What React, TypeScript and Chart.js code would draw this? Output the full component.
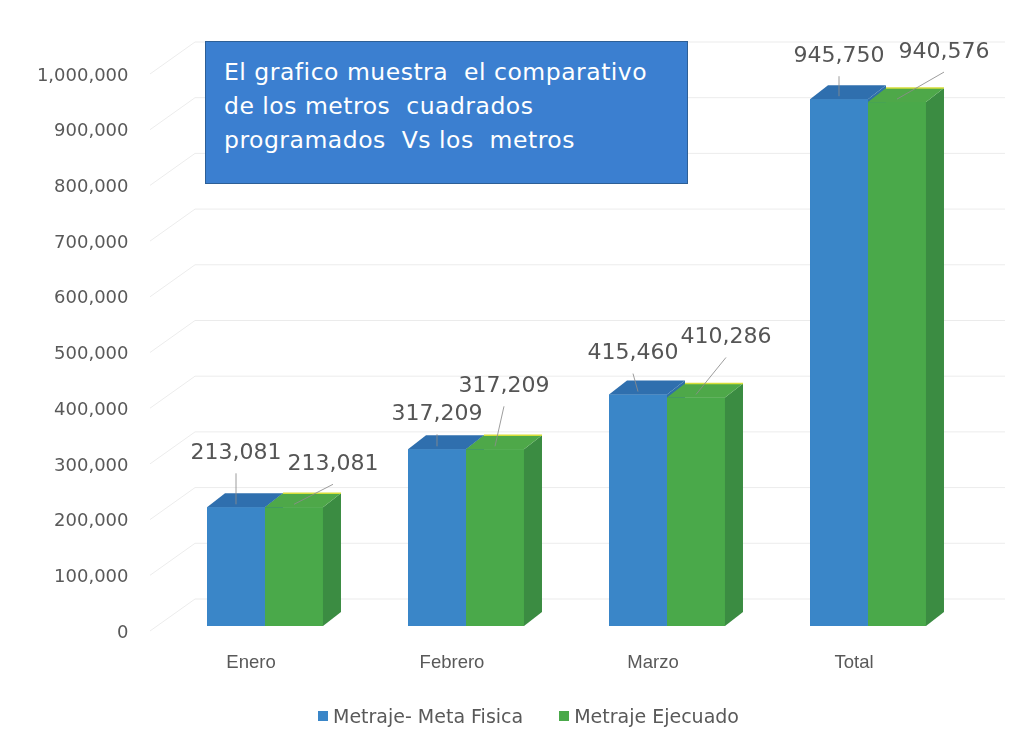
import React, { useEffect, useRef } from "react";
import { Chart, registerables } from "chart.js";

Chart.register(...registerables);

// ---- data ----
const categories = ["Enero", "Febrero", "Marzo", "Total"];
const metaFisica = [213081, 317209, 415460, 945750];
const ejecutado = [213081, 317209, 410286, 940576];
const seriesNames = ["Metraje- Meta Fisica", "Metraje Ejecuado"];
const yTicks = [0, 100000, 200000, 300000, 400000, 500000, 600000, 700000, 800000, 900000, 1000000];
const titleLines = [
  "El grafico muestra  el comparativo",
  "de los metros  cuadrados",
  "programados  Vs los  metros",
];

// ---- layout / style (not data) ----
const labelDX = [
  [0, 0, -5, 0],
  [39, 9, 30, 47],
];
const labelDY = [
  [-54, -35, -41, -43],
  [-43, -63, -60, -50],
];
const DEPTH_X = 18;
const DEPTH_Y = 14;
const WALL_X = 35;
const WALL_Y = 27;

const faces = [
  { front: "#3a86c8", side: "#2f6fa8", top: "#2f6fae", edge: null },
  { front: "#4aa94a", side: "#3b8c42", top: "#4ea849", edge: "#d6de3a" },
];

const fmt = (v: number) => v.toLocaleString("en-US");

const threeD = {
  id: "threeD",
  beforeDatasetsDraw(chart: any) {
    const ctx = chart.ctx;
    const ys = chart.scales.y;
    ctx.save();
    ctx.strokeStyle = "rgba(0,0,0,0.08)";
    ctx.lineWidth = 1;
    yTicks.forEach((v) => {
      const by = ys.getPixelForValue(v) - WALL_Y;
      ctx.beginPath();
      ctx.moveTo(150, by + 32);
      ctx.lineTo(150 + WALL_X + 10, by);
      ctx.lineTo(1005, by);
      ctx.stroke();
    });
    ctx.restore();
  },
  afterDatasetsDraw(chart: any) {
    const ctx = chart.ctx;
    ctx.save();
    chart.data.datasets.forEach((_ds: any, di: number) => {
      const meta = chart.getDatasetMeta(di);
      const f = faces[di];
      meta.data.forEach((bar: any) => {
        const { x, y, base, width } = bar.getProps(["x", "y", "base", "width"], true);
        const x0 = x - width / 2;
        const x1 = x + width / 2;
        ctx.fillStyle = f.front;
        ctx.fillRect(x0, y, width, base - y);
        ctx.fillStyle = f.side;
        ctx.beginPath();
        ctx.moveTo(x1, y);
        ctx.lineTo(x1 + DEPTH_X, y - DEPTH_Y);
        ctx.lineTo(x1 + DEPTH_X, base - DEPTH_Y);
        ctx.lineTo(x1, base);
        ctx.closePath();
        ctx.fill();
        ctx.fillStyle = f.top;
        ctx.beginPath();
        ctx.moveTo(x0, y);
        ctx.lineTo(x0 + DEPTH_X, y - DEPTH_Y);
        ctx.lineTo(x1 + DEPTH_X, y - DEPTH_Y);
        ctx.lineTo(x1, y);
        ctx.closePath();
        ctx.fill();
        if (f.edge) {
          ctx.strokeStyle = f.edge;
          ctx.lineWidth = 1.5;
          ctx.beginPath();
          ctx.moveTo(x0 + DEPTH_X, y - DEPTH_Y);
          ctx.lineTo(x1 + DEPTH_X, y - DEPTH_Y);
          ctx.stroke();
        }
      });
    });
    ctx.font = "22px 'DejaVu Sans'";
    ctx.textAlign = "center";
    ctx.textBaseline = "middle";
    chart.data.datasets.forEach((ds: any, di: number) => {
      const meta = chart.getDatasetMeta(di);
      meta.data.forEach((bar: any, i: number) => {
        const { x, y } = bar.getProps(["x", "y"], true);
        const lx = x + labelDX[di][i];
        const ly = y + labelDY[di][i];
        ctx.strokeStyle = "rgba(140,140,140,0.85)";
        ctx.lineWidth = 1;
        const sy = ly + 20;
        if (y - 3 - sy > 4) {
          ctx.beginPath();
          ctx.moveTo(lx, sy);
          ctx.lineTo(x, y - 3);
          ctx.stroke();
        }
        ctx.fillStyle = "#555555";
        ctx.fillText(fmt(ds.data[i]), lx, ly);
      });
    });
    ctx.restore();
  },
};

export default function App() {
  const ref = useRef<HTMLCanvasElement | null>(null);
  useEffect(() => {
    if (!ref.current) return;
    const chart = new Chart(ref.current, {
      type: "bar",
      data: {
        labels: categories,
        datasets: [
          { label: seriesNames[0], data: metaFisica, backgroundColor: faces[0].front, clip: false } as any,
          { label: seriesNames[1], data: ejecutado, backgroundColor: faces[1].front, clip: false } as any,
        ],
      },
      options: {
        animation: false,
        responsive: false,
        maintainAspectRatio: false,
        layout: { padding: { top: 69, right: 61.5, left: 0, bottom: 0 } },
        datasets: { bar: { categoryPercentage: 0.577, barPercentage: 1.0 } } as any,
        plugins: { legend: { display: false }, tooltip: { enabled: false } },
        scales: {
          x: {
            grid: { display: false },
            border: { display: false },
            ticks: {
              color: "#595959",
              font: { family: "'Liberation Sans'", size: 18.5 },
              padding: 18,
              labelOffset: -14,
            },
            afterFit: (s: any) => {
              s.height = 125;
            },
          },
          y: {
            min: 0,
            max: 1000000,
            grid: { display: false },
            border: { display: false },
            afterBuildTicks: (s: any) => {
              s.ticks = yTicks.map((v) => ({ value: v }));
            },
            ticks: {
              color: "#595959",
              font: { family: "'DejaVu Sans'", size: 18 },
              padding: 28,
              labelOffset: 7,
              callback: (v: any) => fmt(Number(v)),
            },
            afterFit: (s: any) => {
              s.width = 164.5;
            },
          },
        },
      },
      plugins: [threeD],
    });
    return () => chart.destroy();
  }, []);

  return (
    <div style={{ position: "absolute", left: 0, top: 0, width: 1030, height: 751, background: "#fff" }}>
      <canvas ref={ref} width={1030} height={751} style={{ position: "absolute", left: 0, top: 0 }} />
      <div
        style={{
          position: "absolute",
          left: 205,
          top: 41,
          width: 483,
          height: 143,
          boxSizing: "border-box",
          background: "#3b7fd0",
          border: "1.5px solid #2d5f96",
          color: "#ffffff",
          fontFamily: "'DejaVu Sans', sans-serif",
          fontSize: 23.5,
          letterSpacing: "0.5px",
          lineHeight: "34px",
          padding: "13px 0 0 18px",
          whiteSpace: "pre",
        }}
      >
        {titleLines.map((t, i) => (
          <div key={i}>{t}</div>
        ))}
      </div>
      <div
        style={{
          position: "absolute",
          left: 318,
          top: 705,
          display: "flex",
          alignItems: "center",
          gap: 36,
          fontFamily: "'DejaVu Sans', sans-serif",
          fontSize: 19,
          color: "#595959",
          whiteSpace: "nowrap",
        }}
      >
        {seriesNames.map((n, i) => (
          <div key={i} style={{ display: "flex", alignItems: "center" }}>
            <span style={{ display: "inline-block", width: 10, height: 10, background: faces[i].front, marginRight: 5 }} />
            <span>{n}</span>
          </div>
        ))}
      </div>
    </div>
  );
}
